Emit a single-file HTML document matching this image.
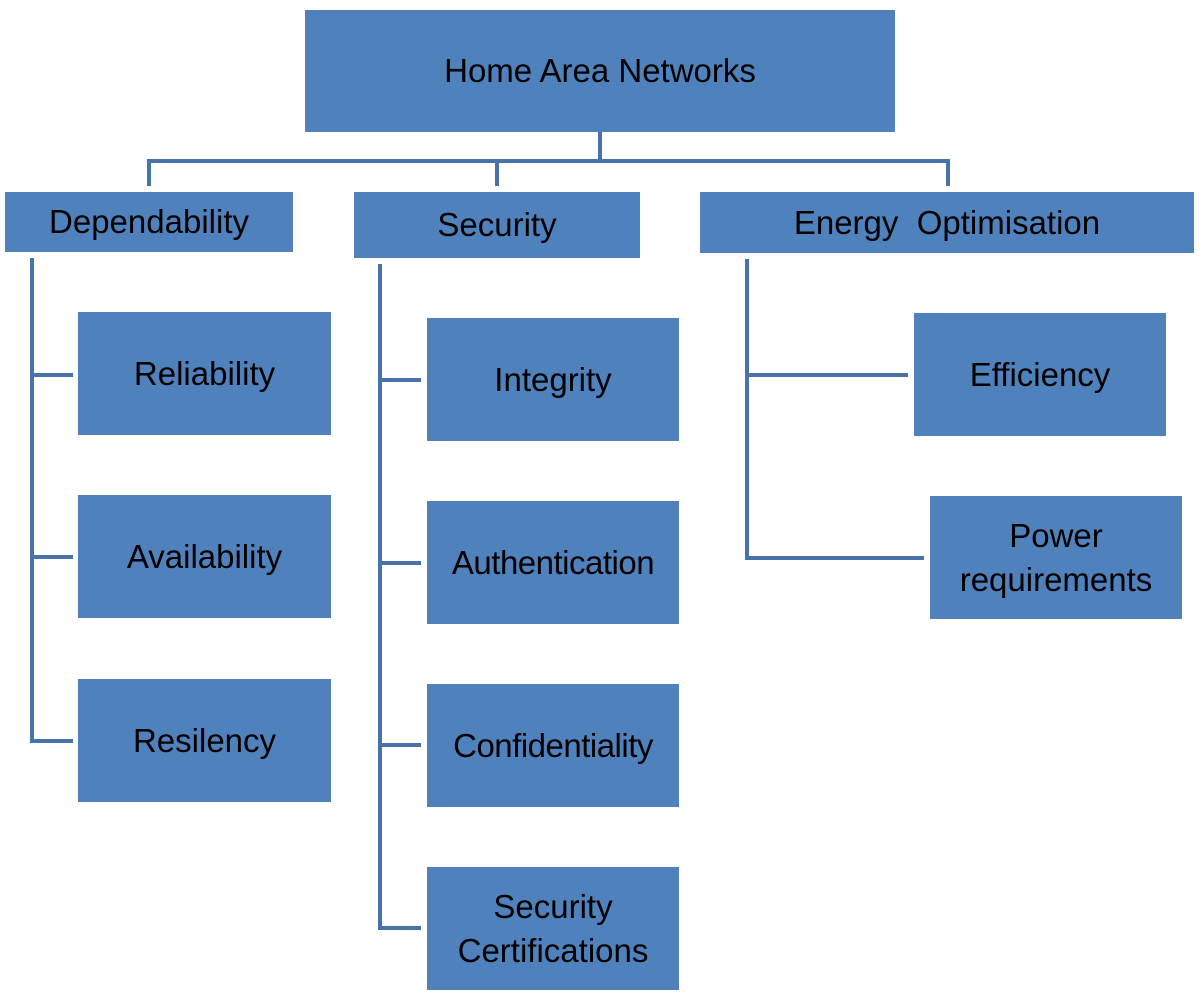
<!DOCTYPE html>
<html><head><style>
body{margin:0;background:#fff;width:1204px;height:996px;position:relative;overflow:hidden;font-family:"Liberation Sans",sans-serif;}
.b{position:absolute;background:#4f81bd;display:flex;align-items:center;justify-content:center;text-align:center;color:#000;font-size:33px;line-height:44px;letter-spacing:0}
.l{position:absolute;background:#4a72aa}
</style></head><body>
<div class="b" style="left:305px;top:10px;width:590px;height:122px">Home Area Networks</div>
<div class="l" style="left:598px;top:132px;width:4px;height:31px"></div>
<div class="l" style="left:147px;top:159px;width:803px;height:4px"></div>
<div class="l" style="left:147px;top:159px;width:4px;height:27px"></div>
<div class="l" style="left:495px;top:159px;width:4px;height:27px"></div>
<div class="l" style="left:946px;top:159px;width:4px;height:27px"></div>
<div class="b" style="left:5px;top:192px;width:288px;height:60px">Dependability</div>
<div class="b" style="left:354px;top:192px;width:286px;height:66px">Security</div>
<div class="b" style="left:700px;top:192px;width:494px;height:61px">Energy&nbsp; Optimisation</div>
<div class="l" style="left:30px;top:258px;width:4px;height:485px"></div>
<div class="l" style="left:30px;top:373px;width:43px;height:4px"></div>
<div class="l" style="left:30px;top:555px;width:43px;height:4px"></div>
<div class="l" style="left:30px;top:739px;width:43px;height:4px"></div>
<div class="b" style="left:78px;top:312px;width:253px;height:123px">Reliability</div>
<div class="b" style="left:78px;top:495px;width:253px;height:123px">Availability</div>
<div class="b" style="left:78px;top:679px;width:253px;height:123px">Resilency</div>
<div class="l" style="left:378px;top:264px;width:4px;height:666px"></div>
<div class="l" style="left:378px;top:378px;width:43px;height:4px"></div>
<div class="l" style="left:378px;top:561px;width:43px;height:4px"></div>
<div class="l" style="left:378px;top:743px;width:43px;height:4px"></div>
<div class="l" style="left:378px;top:926px;width:43px;height:4px"></div>
<div class="b" style="left:427px;top:318px;width:252px;height:123px">Integrity</div>
<div class="b" style="left:427px;top:501px;width:252px;height:123px;letter-spacing:-0.5px">Authentication</div>
<div class="b" style="left:427px;top:684px;width:252px;height:123px;letter-spacing:-0.5px">Confidentiality</div>
<div class="b" style="left:427px;top:867px;width:252px;height:123px">Security<br>Certifications</div>
<div class="l" style="left:745px;top:259px;width:4px;height:301px"></div>
<div class="l" style="left:745px;top:373px;width:163px;height:4px"></div>
<div class="l" style="left:745px;top:556px;width:179px;height:4px"></div>
<div class="b" style="left:914px;top:313px;width:252px;height:123px">Efficiency</div>
<div class="b" style="left:930px;top:496px;width:252px;height:123px">Power<br>requirements</div>
</body></html>
